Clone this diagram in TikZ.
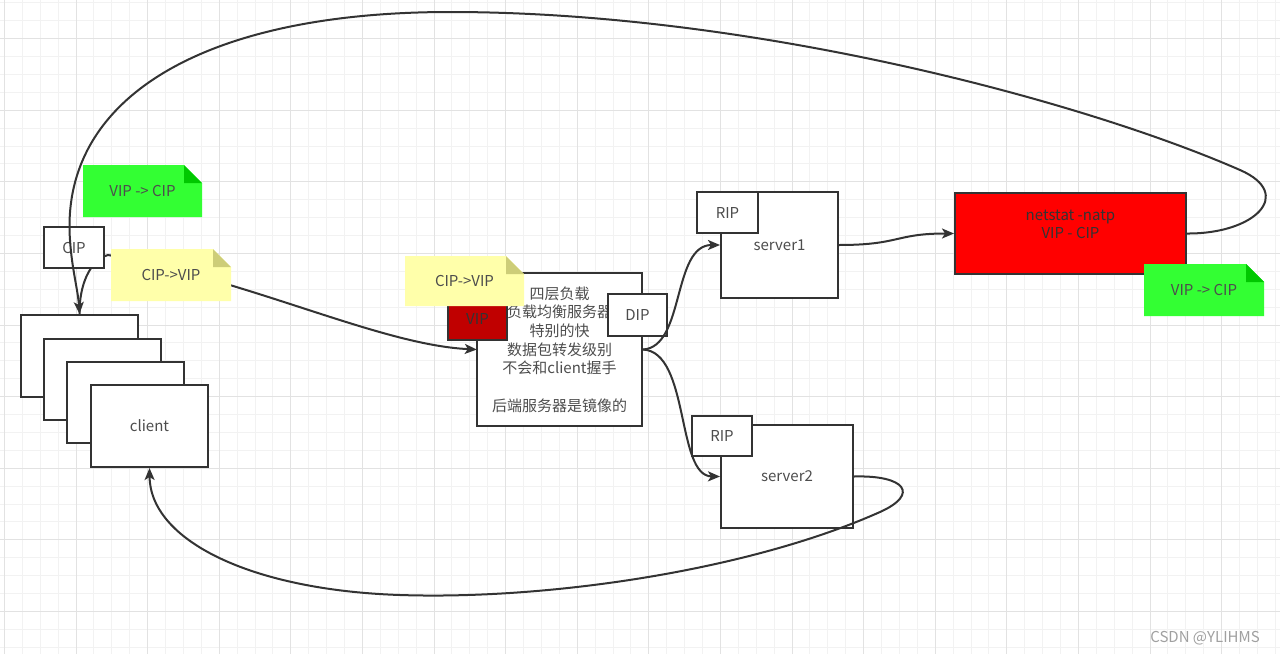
\documentclass[tikz,border=0pt]{standalone}
\usepackage{fontspec}
\setmainfont{Noto Sans CJK SC}
\usetikzlibrary{arrows.meta}
\definecolor{linec}{HTML}{333333}
\definecolor{txt}{HTML}{4D4D4D}
\definecolor{gminor}{HTML}{F2F2F2}
\definecolor{gmajor}{HTML}{E2E2E2}
\definecolor{ngreen}{HTML}{33FF33}
\definecolor{ngreenfold}{HTML}{00C800}
\definecolor{nyellow}{HTML}{FFFFAA}
\definecolor{nyellowfold}{HTML}{CDCD78}
\definecolor{vipred}{HTML}{C00000}
\definecolor{nred}{HTML}{FF0000}
\definecolor{wm}{HTML}{A0A0A0}
\newcommand\notebox[8]{%
  \fill[#6] (#2,#3) -- (#4-18,#3) -- (#4,#3+18) -- (#4,#5) -- (#2,#5) -- cycle;
  \fill[#7] (#4-18,#3) -- (#4-18,#3+18) -- (#4,#3+18) -- cycle;
  \node[notetext] (#1) at ({(#2+#4)/2},{(#3+#5)/2}) {#8};%
}
\begin{document}
\begin{tikzpicture}[x=1pt,y=-1pt,
  box/.style={draw=linec,line width=2pt,fill=white,inner sep=0pt,text=txt,
    font=\fontsize{15}{18.7}\selectfont,align=center},
  notetext/.style={inner sep=0pt,text=txt,font=\fontsize{15}{18}\selectfont},
  edge/.style={draw=linec,line width=2pt},
  arr/.style={edge,-{Stealth[length=12pt,width=10pt,inset=3pt]}}
]
\useasboundingbox (0,0) rectangle (1280,654);
\fill[white] (0,0) rectangle (1280,654);
% grid
\foreach \i in {-5,...,68} \draw[gminor,line width=1pt] ({76+\i*17.9},0) -- ({76+\i*17.9},654);
\foreach \j in {-3,...,35} \draw[gminor,line width=1pt] (0,{38.6+\j*17.9}) -- (1280,{38.6+\j*17.9});
\foreach \i in {-1,...,17} \draw[gmajor,line width=1pt] ({76+\i*71.6},0) -- ({76+\i*71.6},654);
\foreach \j in {-1,...,9} \draw[gmajor,line width=1pt] (0,{38.6+\j*71.6}) -- (1280,{38.6+\j*71.6});

% nodes that the first edge needs
\path (79.5,356) node[minimum width=117pt,minimum height=82pt,inner sep=0pt] (c1p) {};
\path (559.5,349.5) node[minimum width=165pt,minimum height=153pt,inner sep=0pt] (lbp) {};
% CIP -> VIP edge (under boxes and notes)
\draw[arr] (c1p.north) .. controls (79,285) and (90,260) .. (108,255)
  .. controls (250,280) and (380,345) .. (lbp.west);

% client stack
\node[box,minimum width=117pt,minimum height=82pt] (c1) at (79.5,356) {};
\node[box,minimum width=117pt,minimum height=81pt] (c2) at (102.5,379.5) {};
\node[box,minimum width=117pt,minimum height=81pt] (c3) at (125.5,402.5) {};
\node[box,minimum width=117pt,minimum height=82pt] (client) at (149.5,426) {client};
\node[box,minimum width=60pt,minimum height=41pt] (cip) at (74,247.5) {CIP};

% notes left
\notebox{gnote1}{83}{165}{202}{217}{ngreen}{ngreenfold}{VIP -> CIP}
\notebox{ynote1}{111}{249}{231}{301}{nyellow}{nyellowfold}{CIP->VIP}

% load balancer
\node[box,minimum width=165pt,minimum height=153pt] (lb) at (559.5,349.5)
  {四层负载\\负载均衡服务器\\特别的快\\数据包转发级别\\不会和client握手\\ \\后端服务器是镜像的};
\node[box,fill=vipred,text=linec,minimum width=59pt,minimum height=42pt] (vip) at (477.5,319) {VIP};
\node[box,minimum width=59pt,minimum height=42pt] (dip) at (637.5,315) {DIP};
\notebox{ynote2}{405}{256}{524}{306}{nyellow}{nyellowfold}{CIP->VIP}

% servers
\node[box,minimum width=117pt,minimum height=106pt] (s1) at (779.5,245) {server1};
\node[box,minimum width=61pt,minimum height=41pt] (rip1) at (727.5,212.5) {RIP};
\node[box,minimum width=132pt,minimum height=103pt] (s2) at (787,476.5) {server2};
\node[box,minimum width=60pt,minimum height=40pt] (rip2) at (722,436) {RIP};

% netstat
\node[box,fill=nred,text=linec,minimum width=231pt,minimum height=81pt] (ns) at (1070.5,233.5)
  {netstat -natp\\VIP - CIP\\ };
\notebox{gnote2}{1144}{264}{1264}{316}{ngreen}{ngreenfold}{VIP -> CIP}

% edges on top
\draw[arr] (ns.east) .. controls (1255,234) and (1295,194) .. (1240,170)
  .. controls (1080,100) and (750,12) .. (450,12)
  .. controls (200,12) and (60,100) .. (70,240)
  .. controls (72,270) and (78,290) .. (c1.north);
\draw[arr] (lb.east) .. controls (685,347) and (672,245) .. (s1.west);
\draw[arr] (lb.east) .. controls (690,352) and (676,476) .. (s2.west);
\draw[arr] (s1.east) .. controls (900,245) and (895,233.5) .. (ns.west);
\draw[arr] (s2.east) .. controls (905,475) and (920,494) .. (880,512)
  .. controls (750,570) and (550,600) .. (400,595)
  .. controls (250,590) and (150,540) .. (client.south);

% watermark
\node[inner sep=0pt,text=wm,font=\fontsize{15}{18}\selectfont] (wmk) at (1205,638) {CSDN @YLIHMS};
\end{tikzpicture}
\end{document}
